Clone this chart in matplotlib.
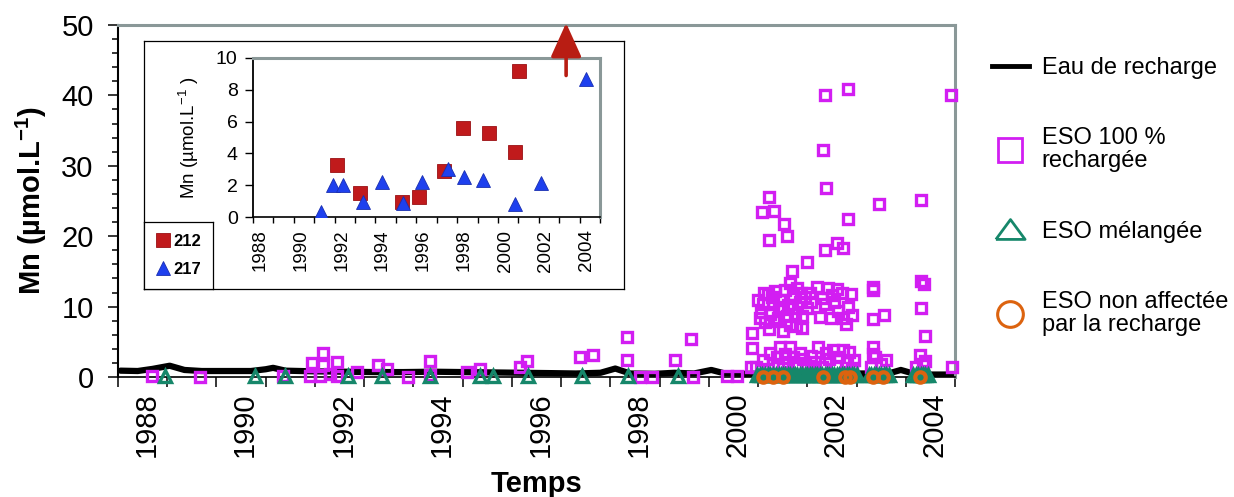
import numpy as np
import matplotlib
matplotlib.use("Agg")
from matplotlib import pyplot as plt
from matplotlib.lines import Line2D
from matplotlib.ticker import MultipleLocator

plt.rcParams["font.family"] = ["Liberation Sans", "DejaVu Sans"]
plt.rcParams["mathtext.fontset"] = "custom"
plt.rcParams["mathtext.rm"] = "Liberation Sans"
plt.rcParams["mathtext.bf"] = "Liberation Sans:bold"

# ---- data (decimal years, Mn in umol/L) ----
recharge_year = [1988.05, 1988.4, 1988.7, 1989.05, 1989.35, 1989.7, 1990.2, 1990.7,
                 1991.0, 1991.15, 1991.4, 1992.0, 1992.6, 1993.2, 1993.8, 1994.4,
                 1995.0, 1995.6, 1996.2, 1996.8, 1997.3, 1997.8, 1998.1, 1998.4,
                 1998.9, 1999.3, 1999.7, 2000.05, 2000.3, 2000.7, 2001.5, 2002.5,
                 2003.2, 2003.7, 2003.9, 2004.1, 2004.5, 2004.95]
recharge_mn = [0.9, 0.85, 1.15, 1.6, 1.0, 0.85, 0.85, 0.85,
               1.1, 1.3, 0.9, 0.8, 0.75, 0.7, 0.7, 0.75,
               0.7, 0.65, 0.6, 0.55, 0.5, 0.6, 1.2, 0.5,
               0.45, 0.6, 0.5, 1.0, 0.55, 0.45, 0.5, 0.5,
               0.5, 0.6, 1.0, 0.6, 0.35, 0.35]

# ESO 100 % rechargee
eso100 = [
    (1988.69, 0.1), (1989.66, 0.05), (1991.35, 0.2), (1991.9, 0.1), (1991.94, 2.0),
    (1992.17, 3.4), (1992.17, 1.7), (1992.45, 2.1), (1992.45, 0.2), (1992.1, 0.2),
    (1992.3, 0.4), (1992.85, 0.7), (1993.28, 1.7), (1993.46, 1.1), (1993.9, 0.05),
    (1994.34, 2.3), (1994.34, 0.3), (1995.08, 0.7), (1995.35, 1.1), (1996.16, 1.4),
    (1996.3, 2.3), (1997.38, 2.9), (1997.64, 3.1), (1998.33, 5.7), (1998.33, 2.4),
    (1998.6, 0.05), (1998.84, 0.05), (1999.31, 2.4), (1999.63, 5.4), (1999.68, 0.05),
    (2000.37, 0.1), (2000.57, 0.1),
    # upper isolated values
    (2002.36, 40.1), (2002.82, 40.9), (2004.91, 40.1), (2002.32, 32.2), (2002.38, 26.9),
    (2001.22, 25.5), (2001.08, 23.4), (2001.32, 23.6), (2001.52, 21.8), (2001.58, 20.0),
    (2001.22, 19.4), (2003.45, 24.6), (2004.3, 25.2), (2002.82, 22.4), (2001.99, 16.3),
    (2001.68, 15.0), (2001.64, 13.3), (2002.36, 18.0), (2002.6, 19.0), (2002.72, 18.3),
    # 2001-2002 cluster, 6-13
    (2000.87, 6.3), (2000.87, 4.1), (2000.85, 1.4),
    (2001.0, 11.0), (2001.05, 9.2), (2001.1, 10.3), (2001.15, 7.8), (2001.2, 11.8),
    (2001.25, 9.0), (2001.3, 10.6), (2001.35, 12.2), (2001.4, 8.4), (2001.45, 11.0),
    (2001.5, 9.6), (2001.55, 12.4), (2001.6, 10.2), (2001.65, 7.4), (2001.7, 11.6),
    (2001.75, 9.0), (2001.8, 12.6), (2001.85, 10.6), (2001.9, 8.6), (2001.95, 11.4),
    (2002.0, 9.8), (2002.05, 12.0), (2001.12, 12.0), (2001.33, 8.0), (2001.58, 8.6),
    (2001.78, 7.2), (2001.03, 8.4), (2001.22, 6.8), (2001.5, 6.6), (2001.9, 6.9),
    (2001.68, 9.8), (2001.42, 10.0), (2001.28, 11.4), (2001.88, 12.0), (2002.08, 10.6),
    (2002.2, 12.8), (2002.3, 11.2), (2002.35, 10.4), (2002.42, 12.6), (2002.48, 8.4),
    (2002.5, 11.6), (2002.55, 10.6), (2002.62, 9.4), (2002.7, 11.9), (2002.72, 8.4),
    (2002.78, 7.5), (2002.82, 9.9), (2002.88, 11.8), (2002.25, 8.5), (2002.9, 8.8),
    (2002.6, 12.5),
    # lower cluster 1-5
    (2000.95, 1.4), (2001.1, 2.4), (2001.2, 1.2), (2001.3, 1.8), (2001.38, 2.8),
    (2001.45, 4.2), (2001.5, 1.3), (2001.6, 2.2), (2001.65, 4.2), (2001.7, 2.9),
    (2001.78, 1.5), (2001.85, 3.4), (2001.92, 2.6), (2002.0, 1.6), (2002.08, 3.0),
    (2002.15, 2.2), (2002.22, 4.2), (2002.3, 1.4), (2002.38, 3.4), (2002.45, 2.6),
    (2002.52, 3.8), (2002.58, 1.6), (2002.65, 2.8), (2002.72, 3.8), (2002.8, 2.1),
    (2002.85, 3.5), (2002.9, 1.3), (2002.95, 2.4), (2001.25, 3.4), (2001.55, 3.3),
    (2002.1, 1.2),
    # 2003 and 2004 columns
    (2003.33, 12.8), (2003.33, 12.4), (2003.33, 8.2), (2003.55, 8.8), (2003.33, 4.2),
    (2003.33, 3.3), (2003.38, 2.8), (2003.6, 2.4), (2003.3, 1.4), (2003.5, 1.8),
    (2004.3, 13.6), (2004.38, 13.2), (2004.3, 9.8), (2004.4, 5.8), (2004.28, 3.1),
    (2004.2, 1.4), (2004.4, 2.3), (2004.35, 1.8), (2004.93, 1.4),
]
eso100_year = [p[0] for p in eso100]
eso100_mn = [p[1] for p in eso100]

# ESO melangee
mixed_year = [1988.95, 1990.78, 1991.39, 1992.67, 1993.36, 1994.33, 1995.35, 1995.61,
              1996.32, 1997.42, 1998.36, 1999.37,
              2000.98, 2001.03, 2001.08, 2001.14, 2001.2, 2001.25, 2001.3, 2001.36,
              2001.42, 2001.46, 2001.5, 2001.55, 2001.6, 2001.65, 2001.7, 2001.75,
              2001.8, 2001.85, 2001.9, 2001.95, 2002.0, 2002.05, 2002.1, 2002.15,
              2002.2, 2002.25, 2002.3, 2002.35, 2002.4, 2002.45, 2002.5, 2002.55,
              2002.6, 2002.65, 2002.7, 2002.75, 2002.8, 2002.85, 2002.9, 2002.95,
              2003.0, 2003.25, 2003.3, 2003.35, 2003.4, 2003.45, 2003.5, 2003.55,
              2003.6, 2003.65, 2004.15, 2004.2, 2004.25, 2004.3, 2004.35, 2004.4,
              2004.45]
mixed_mn = [0.15] * 12 + [0.3] * 57

# ESO non affectee par la recharge
unaffected_year = [2001.1, 2001.3, 2001.5, 2002.31, 2002.76, 2002.86, 2003.33, 2003.53, 2004.28]
unaffected_mn = [0.05, 0.05, 0.05, 0.05, 0.05, 0.05, 0.05, 0.05, 0.05]

# inset: wells 212 and 217
well212_year = [1992.12, 1993.24, 1995.3, 1996.11, 1997.35, 1998.3, 1999.57, 2000.84, 2001.04]
well212_mn = [3.27, 1.51, 0.94, 1.26, 2.9, 5.6, 5.3, 4.1, 9.2]
well217_year = [1991.33, 1991.92, 1992.41, 1993.39, 1994.32, 1995.35, 1996.29, 1997.56,
                1998.34, 1999.27, 2000.84, 2002.12, 2004.32]
well217_mn = [0.3, 2.0, 2.0, 0.95, 2.2, 0.85, 2.2, 3.0, 2.5, 2.3, 0.8, 2.15, 8.7]
# off-scale value of 212 (arrow)
off212_year = 2003.34
off212_from = 8.9
off212_to = 12.2

year_labels = [1988, 1990, 1992, 1994, 1996, 1998, 2000, 2002, 2004]

# ---- colours ----
magenta = "#d21ef2"
green = "#16876a"
orange = "#dc630f"
red = "#c01a1c"
blue = "#1e40ee"
grey = "#8a9898"

W, H = 1234, 497


def rect(x0, y0, x1, y1):
    return [x0 / W, 1 - y1 / H, (x1 - x0) / W, (y1 - y0) / H]


fig = plt.figure(figsize=(W / 100, H / 100), dpi=100)

# ---- main axes ----
ax = fig.add_axes(rect(118, 25, 955, 377))
ax.plot(recharge_year, recharge_mn, color="black", lw=4.5, zorder=2, solid_capstyle="round")
ax.plot(eso100_year, eso100_mn, ls="none", marker="s", ms=6.8, mew=2.4,
        mfc="none", mec=magenta, zorder=3, clip_on=False)
ax.plot(mixed_year, mixed_mn, ls="none", marker="^", ms=8.5, mew=2.4,
        mfc="none", mec=green, zorder=4, clip_on=False)
ax.plot(unaffected_year, unaffected_mn, ls="none", marker="o", ms=7.5, mew=3,
        mfc="none", mec=orange, zorder=5, clip_on=False)

ax.set_xlim(1988, 2005)
ax.set_ylim(0, 50)
ax.set_xticks([y + 0.58 for y in year_labels])
ax.set_xticklabels([str(y) for y in year_labels], rotation=90)
ax.xaxis.set_minor_locator(MultipleLocator(1))
ax.tick_params(axis="x", which="major", length=0, labelsize=21, pad=11)
ax.tick_params(axis="x", which="minor", length=7, width=1.1, direction="out")
ax.yaxis.set_major_locator(MultipleLocator(10))
ax.yaxis.set_minor_locator(MultipleLocator(2))
ax.tick_params(axis="y", which="major", length=7.5, width=1.1, labelsize=21, pad=10)
ax.tick_params(axis="y", which="minor", length=4.5, width=1.1)
for s in ("top", "right"):
    ax.spines[s].set_color(grey)
    ax.spines[s].set_linewidth(2.2)
ax.spines["left"].set_linewidth(1.5)
ax.spines["bottom"].set_linewidth(1.2)

ax.set_ylabel(r"Mn (µmol.L$^{\mathbf{-1}}$)", fontsize=21, fontweight="bold")
ax.yaxis.set_label_coords(-0.083, 0.5)
ax.set_xlabel("Temps", fontsize=21, fontweight="bold")
ax.xaxis.set_label_coords(0.5, -0.264)

# ---- inset frame ----
fr = fig.add_axes(rect(144, 41, 624, 289))
fr.set_xticks([])
fr.set_yticks([])
for s in fr.spines.values():
    s.set_linewidth(0.9)

ax_in = fig.add_axes(rect(253, 58, 600, 217))
ax_in.plot(well212_year, well212_mn, ls="none", marker="s", ms=10, mfc=red,
           mec="#9a1014", mew=0.6, zorder=3)
ax_in.plot(well217_year, well217_mn, ls="none", marker="^", ms=10.5, mfc=blue,
           mec="#1a2fb0", mew=0.6, zorder=3)
ax_in.annotate("", xy=(off212_year, off212_to), xytext=(off212_year, off212_from),
               arrowprops=dict(arrowstyle="-|>,head_length=2.1,head_width=0.95",
                               color="#b81d13", lw=2.6, shrinkA=0, shrinkB=0),
               annotation_clip=False, zorder=6)
ax_in.set_xlim(1988, 2005)
ax_in.set_ylim(0, 10)
ax_in.set_xticks([y + 0.35 for y in year_labels])
ax_in.set_xticklabels([str(y) for y in year_labels], rotation=90)
ax_in.xaxis.set_minor_locator(MultipleLocator(1))
ax_in.tick_params(axis="x", which="major", length=0, labelsize=13.5, pad=9)
ax_in.tick_params(axis="x", which="minor", length=4, width=1)
ax_in.yaxis.set_major_locator(MultipleLocator(2))
ax_in.tick_params(axis="y", which="major", length=6, width=1, labelsize=14, pad=5)
for s in ("top", "right"):
    ax_in.spines[s].set_color(grey)
    ax_in.spines[s].set_linewidth(2.2)
ax_in.spines["left"].set_linewidth(1.3)
ax_in.spines["bottom"].set_linewidth(1.2)
ax_in.set_ylabel(r"Mn (µmol.L$^{-1}$ )", fontsize=13.5)
ax_in.yaxis.set_label_coords(-0.15, 0.5)

# inset legend box
lg_ax = fig.add_axes(rect(144, 222, 213, 289))
lg_ax.set_xticks([])
lg_ax.set_yticks([])
for s in lg_ax.spines.values():
    s.set_linewidth(0.9)
h212 = Line2D([], [], ls="none", marker="s", ms=10, mfc=red, mec="#9a1014", mew=0.6)
h217 = Line2D([], [], ls="none", marker="^", ms=10, mfc=blue, mec="#1a2fb0", mew=0.6)
lg_ax.legend([h212, h217], ["212", "217"], loc="center", frameon=False,
             prop={"size": 12, "weight": "bold"}, handlelength=0.8,
             handletextpad=0.2, labelspacing=0.75, borderpad=0)

# ---- main legend ----
tri = [(-1, -0.68), (1, -0.68), (0, 0.68), (-1, -0.68)]
handles = [
    Line2D([], [], color="black", lw=3.5),
    Line2D([], [], ls="none", marker="s", ms=17, mew=2, mfc="none", mec=magenta),
    Line2D([], [], ls="none", marker=tri, ms=21, mew=2, mfc="none", mec=green),
    Line2D([], [], ls="none", marker="o", ms=18.5, mew=2.2, mfc="none", mec=orange),
]
labels = ["Eau de recharge", "ESO 100 %\nrechargée", "ESO mélangée",
          "ESO non affectée\npar la recharge"]
leg = fig.legend(handles, labels, loc="upper left",
                 bbox_to_anchor=(992 / W, 1 - 57 / H), frameon=False,
                 fontsize=17, handlelength=1.55, handletextpad=0.55,
                 labelspacing=2.05, borderpad=0, borderaxespad=0)
for t in leg.get_texts():
    t.set_linespacing(1.05)

fig.savefig("out.png", dpi=100)
